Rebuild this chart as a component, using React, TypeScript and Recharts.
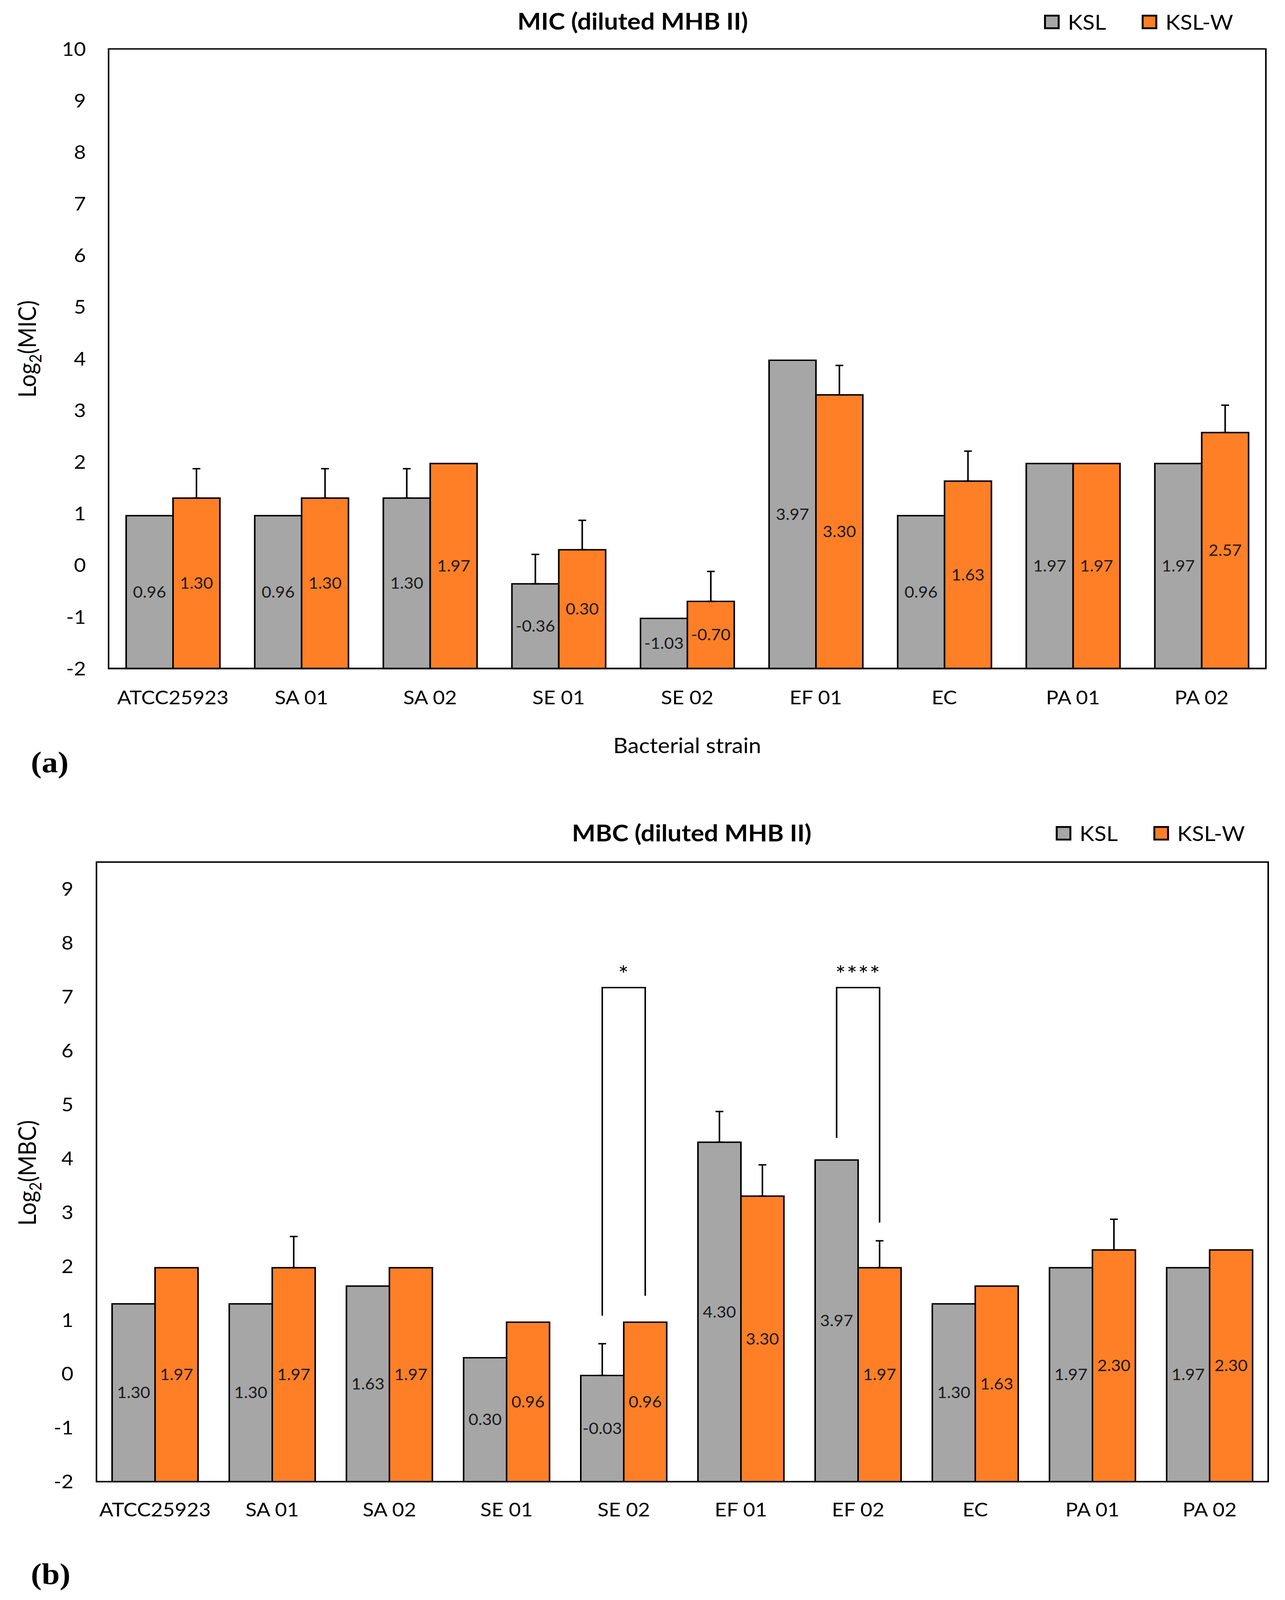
import React from 'react';
import { BarChart, Bar, XAxis, YAxis, ErrorBar, LabelList, Legend, ReferenceLine, ReferenceArea } from 'recharts';

const FONT = 'Lato, "Open Sans", sans-serif';
const GRAY = '#A6A6A6';
const ORANGE = '#FF7F27';
const BASE = -2;

// ---------- (a) MIC ----------
const micStrains = ['ATCC25923', 'SA 01', 'SA 02', 'SE 01', 'SE 02', 'EF 01', 'EC', 'PA 01', 'PA 02'];
const micKSL = [0.96, 0.96, 1.3, -0.36, -1.03, 3.97, 0.96, 1.97, 1.97];
const micKSLW = [1.3, 1.3, 1.97, 0.3, -0.7, 3.3, 1.63, 1.97, 2.57];
const micKSLErr = [null, null, 0.57, 0.57, null, null, null, null, null];
const micKSLWErr = [0.57, 0.57, null, 0.57, 0.58, 0.57, 0.58, null, 0.53];
const micDomain = [-2, 10];
const micTicks = [-2, -1, 0, 1, 2, 3, 4, 5, 6, 7, 8, 9, 10];

// ---------- (b) MBC ----------
const mbcStrains = ['ATCC25923', 'SA 01', 'SA 02', 'SE 01', 'SE 02', 'EF 01', 'EF 02', 'EC', 'PA 01', 'PA 02'];
const mbcKSL = [1.3, 1.3, 1.63, 0.3, -0.03, 4.3, 3.97, 1.3, 1.97, 1.97];
const mbcKSLW = [1.97, 1.97, 1.97, 0.96, 0.96, 3.3, 1.97, 1.63, 2.3, 2.3];
const mbcKSLErr = [null, null, null, null, 0.59, 0.57, null, null, null, null];
const mbcKSLWErr = [null, 0.58, null, null, null, 0.58, 0.5, null, 0.57, null];
const mbcDomain = [-2, 9.5];
const mbcTicks = [-2, -1, 0, 1, 2, 3, 4, 5, 6, 7, 8, 9];

// significance brackets (b)
const mbcBrackets = [
  { strain: 'SE 02', top: 7.17, left: 1.09, right: 1.46, mark: '*' },
  { strain: 'EF 02', top: 7.17, left: 4.39, right: 2.82, mark: '****' },
];

type Row = { name: string; ksl: number; kslw: number; kslErr: number | null; kslwErr: number | null };

function buildRows(strains: string[], ksl: number[], kslw: number[], kslErr: (number | null)[], kslwErr: (number | null)[]): Row[] {
  return strains.map((name, i) => ({ name, ksl: ksl[i], kslw: kslw[i], kslErr: kslErr[i], kslwErr: kslwErr[i] }));
}

const micData = buildRows(micStrains, micKSL, micKSLW, micKSLErr, micKSLWErr);
const mbcData = buildRows(mbcStrains, mbcKSL, mbcKSLW, mbcKSLErr, mbcKSLWErr);

const kslRange = (d: any) => [BASE, d.ksl];
const kslwRange = (d: any) => [BASE, d.kslw];
const kslErrKey = (d: any) => {
  const p = d && d.payload ? d.payload : d;
  return p.kslErr == null ? null : [0, p.kslErr];
};
const kslwErrKey = (d: any) => {
  const p = d && d.payload ? d.payload : d;
  return p.kslwErr == null ? null : [0, p.kslwErr];
};

const fmt = (v: any) => Number(v).toFixed(2);

const colorByName: Record<string, string> = { KSL: GRAY, 'KSL-W': ORANGE };

const LegendContent = (props: any) => {
  const payload = props.payload || [];
  return (
    <div style={{ display: 'flex', fontFamily: FONT, fontSize: 57, lineHeight: '57px', color: '#000', whiteSpace: 'nowrap' }}>
      {payload.map((item: any, i: number) => (
        <div key={i} style={{ display: 'flex', alignItems: 'center', width: i < payload.length - 1 ? 250 : 'auto' }}>
          <div
            style={{
              width: 40,
              height: 40,
              boxSizing: 'border-box',
              border: '5px solid #000',
              background: colorByName[item.value] || item.color,
              marginRight: 21,
            }}
          />
          <span>{item.value}</span>
        </div>
      ))}
    </div>
  );
};

const YTitle = (props: any) => {
  const { name, cy, bx } = props;
  return (
    <text x={bx} y={cy} transform={`rotate(-90 ${bx} ${cy})`} textAnchor="middle" fontFamily={FONT} fontSize={62} fill="#000">
      Log
      <tspan dy={14} fontSize={42}>2</tspan>
      <tspan dy={-14}>({name})</tspan>
    </text>
  );
};

const makeLeg = (side: 'left' | 'right', half: number, mark: string | null) => (props: any) => {
  const { x1, y1, y2 } = props;
  if (x1 == null || y1 == null || y2 == null) return null;
  const xs = side === 'left' ? x1 - half : x1 + half;
  return (
    <g>
      <path d={`M${xs},${y2} L${xs},${y1} L${x1},${y1}`} stroke="#000" strokeWidth={4} fill="none" strokeLinecap="round" />
      {mark ? (
        <text x={x1} y={y1 - 14} textAnchor="middle" fontFamily={FONT} fontSize={64} letterSpacing={2} fill="#000">
          {mark}
        </text>
      ) : null}
    </g>
  );
};

const axisLine = { stroke: '#000', strokeWidth: 4 };
const tickStyle = { fontFamily: FONT, fontSize: 53, fill: '#000' };
const labelStyle = { fontFamily: FONT, fontSize: 43 };

const MIC_BAR = 120;
const MBC_BAR = 110;

// the photographed viewport is shorter than the figure; fit the whole figure in it
const FIG_W = 3290;
const FIG_H = 4447;
const VIEW_H = 4096;
const SY = VIEW_H / FIG_H;

export default function App() {
  return (
    <div style={{ position: 'relative', width: FIG_W, height: VIEW_H, margin: -8, background: '#fff', overflow: 'hidden' }}>
      <div
        style={{
          position: 'absolute',
          left: 0,
          top: 0,
          width: FIG_W,
          height: FIG_H,
          transform: `scale(1, ${SY})`,
          transformOrigin: '0 0',
          background: '#fff',
          fontFamily: FONT,
        }}
      >
        {/* (a) MIC */}
        <div style={{ position: 'absolute', left: 0, top: 0 }}>
          <BarChart width={3290} height={2200} data={micData} margin={{ top: 136, right: 49, bottom: 102, left: 78 }} barGap={0}>
            <ReferenceArea y1={micDomain[0]} y2={micDomain[1]} fill="none" fillOpacity={0} stroke="#000" strokeWidth={4} ifOverflow="visible" />
            <XAxis
              dataKey="name"
              interval={0}
              height={240}
              tickLine={false}
              tickSize={0}
              tickMargin={62}
              axisLine={axisLine}
              tick={tickStyle}
              label={{ value: 'Bacterial strain', position: 'insideBottom', offset: 5, style: { fontFamily: FONT, fontSize: 58, fill: '#000' } }}
            />
            <YAxis
              type="number"
              domain={micDomain}
              ticks={micTicks}
              interval={0}
              width={200}
              tickLine={false}
              tickSize={0}
              tickMargin={58}
              axisLine={axisLine}
              tick={tickStyle}
              label={<YTitle name="MIC" cy={970} bx={92} />}
            />
            <Legend
              layout="vertical"
              align="center"
              verticalAlign="middle"
              wrapperStyle={{ top: 32, left: 2673, right: 'auto', bottom: 'auto', width: 'auto' }}
              content={LegendContent}
            />
            <Bar dataKey={kslRange} name="KSL" fill={GRAY} stroke="#000" strokeWidth={4} barSize={MIC_BAR} isAnimationActive={false}>
              <ErrorBar dataKey={kslErrKey} width={10} strokeWidth={4} stroke="#000" direction="y" />
              <LabelList dataKey="ksl" position="center" formatter={fmt} fill="#1a1a1a" style={labelStyle} />
            </Bar>
            <Bar dataKey={kslwRange} name="KSL-W" fill={ORANGE} stroke="#000" strokeWidth={4} barSize={MIC_BAR} isAnimationActive={false}>
              <ErrorBar dataKey={kslwErrKey} width={10} strokeWidth={4} stroke="#000" direction="y" />
              <LabelList dataKey="kslw" position="center" formatter={fmt} fill="#1a1a1a" style={labelStyle} />
            </Bar>
          </BarChart>
        </div>

        {/* (b) MBC */}
        <div style={{ position: 'absolute', left: 0, top: 2200 }}>
          <BarChart width={3290} height={2247} data={mbcData} margin={{ top: 196, right: 43, bottom: 179, left: 47 }} barGap={0}>
            <ReferenceArea y1={mbcDomain[0]} y2={mbcDomain[1]} fill="none" fillOpacity={0} stroke="#000" strokeWidth={4} ifOverflow="visible" />
            <XAxis
              dataKey="name"
              interval={0}
              height={150}
              tickLine={false}
              tickSize={0}
              tickMargin={59}
              axisLine={axisLine}
              tick={tickStyle}
            />
            <YAxis
              type="number"
              domain={mbcDomain}
              ticks={mbcTicks}
              interval={0}
              width={200}
              tickLine={false}
              tickSize={0}
              tickMargin={59}
              axisLine={axisLine}
              tick={tickStyle}
              label={<YTitle name="MBC" cy={1060} bx={92} />}
            />
            <Legend
              layout="vertical"
              align="center"
              verticalAlign="middle"
              wrapperStyle={{ top: 87, left: 2703, right: 'auto', bottom: 'auto', width: 'auto' }}
              content={LegendContent}
            />
            <Bar dataKey={kslRange} name="KSL" fill={GRAY} stroke="#000" strokeWidth={4} barSize={MBC_BAR} isAnimationActive={false}>
              <ErrorBar dataKey={kslErrKey} width={10} strokeWidth={4} stroke="#000" direction="y" />
              <LabelList dataKey="ksl" position="center" formatter={fmt} fill="#1a1a1a" style={labelStyle} />
            </Bar>
            <Bar dataKey={kslwRange} name="KSL-W" fill={ORANGE} stroke="#000" strokeWidth={4} barSize={MBC_BAR} isAnimationActive={false}>
              <ErrorBar dataKey={kslwErrKey} width={10} strokeWidth={4} stroke="#000" direction="y" />
              <LabelList dataKey="kslw" position="center" formatter={fmt} fill="#1a1a1a" style={labelStyle} />
            </Bar>
            {mbcBrackets.map((b) => (
              <ReferenceLine
                key={b.strain + '-l'}
                segment={[{ x: b.strain, y: b.top }, { x: b.strain, y: b.left }]}
                shape={makeLeg('left', MBC_BAR / 2, b.mark)}
              />
            ))}
            {mbcBrackets.map((b) => (
              <ReferenceLine
                key={b.strain + '-r'}
                segment={[{ x: b.strain, y: b.top }, { x: b.strain, y: b.right }]}
                shape={makeLeg('right', MBC_BAR / 2, null)}
              />
            ))}
          </BarChart>
        </div>

        {/* titles and panel letters */}
        <svg width={3290} height={4447} style={{ position: 'absolute', left: 0, top: 0, pointerEvents: 'none' }}>
          <text x={1620} y={82} textAnchor="middle" fontFamily={FONT} fontWeight={700} fontSize={64} fill="#000">
            MIC (diluted MHB II)
          </text>
          <text x={1771} y={2339} textAnchor="middle" fontFamily={FONT} fontWeight={700} fontSize={64} fill="#000">
            MBC (diluted MHB II)
          </text>
          <text x={79} y={2146} fontFamily='"Liberation Serif", serif' fontWeight={700} fontSize={83} fill="#000">
            (a)
          </text>
          <text x={79} y={4403} fontFamily='"Liberation Serif", serif' fontWeight={700} fontSize={83} fill="#000">
            (b)
          </text>
        </svg>
      </div>
    </div>
  );
}
